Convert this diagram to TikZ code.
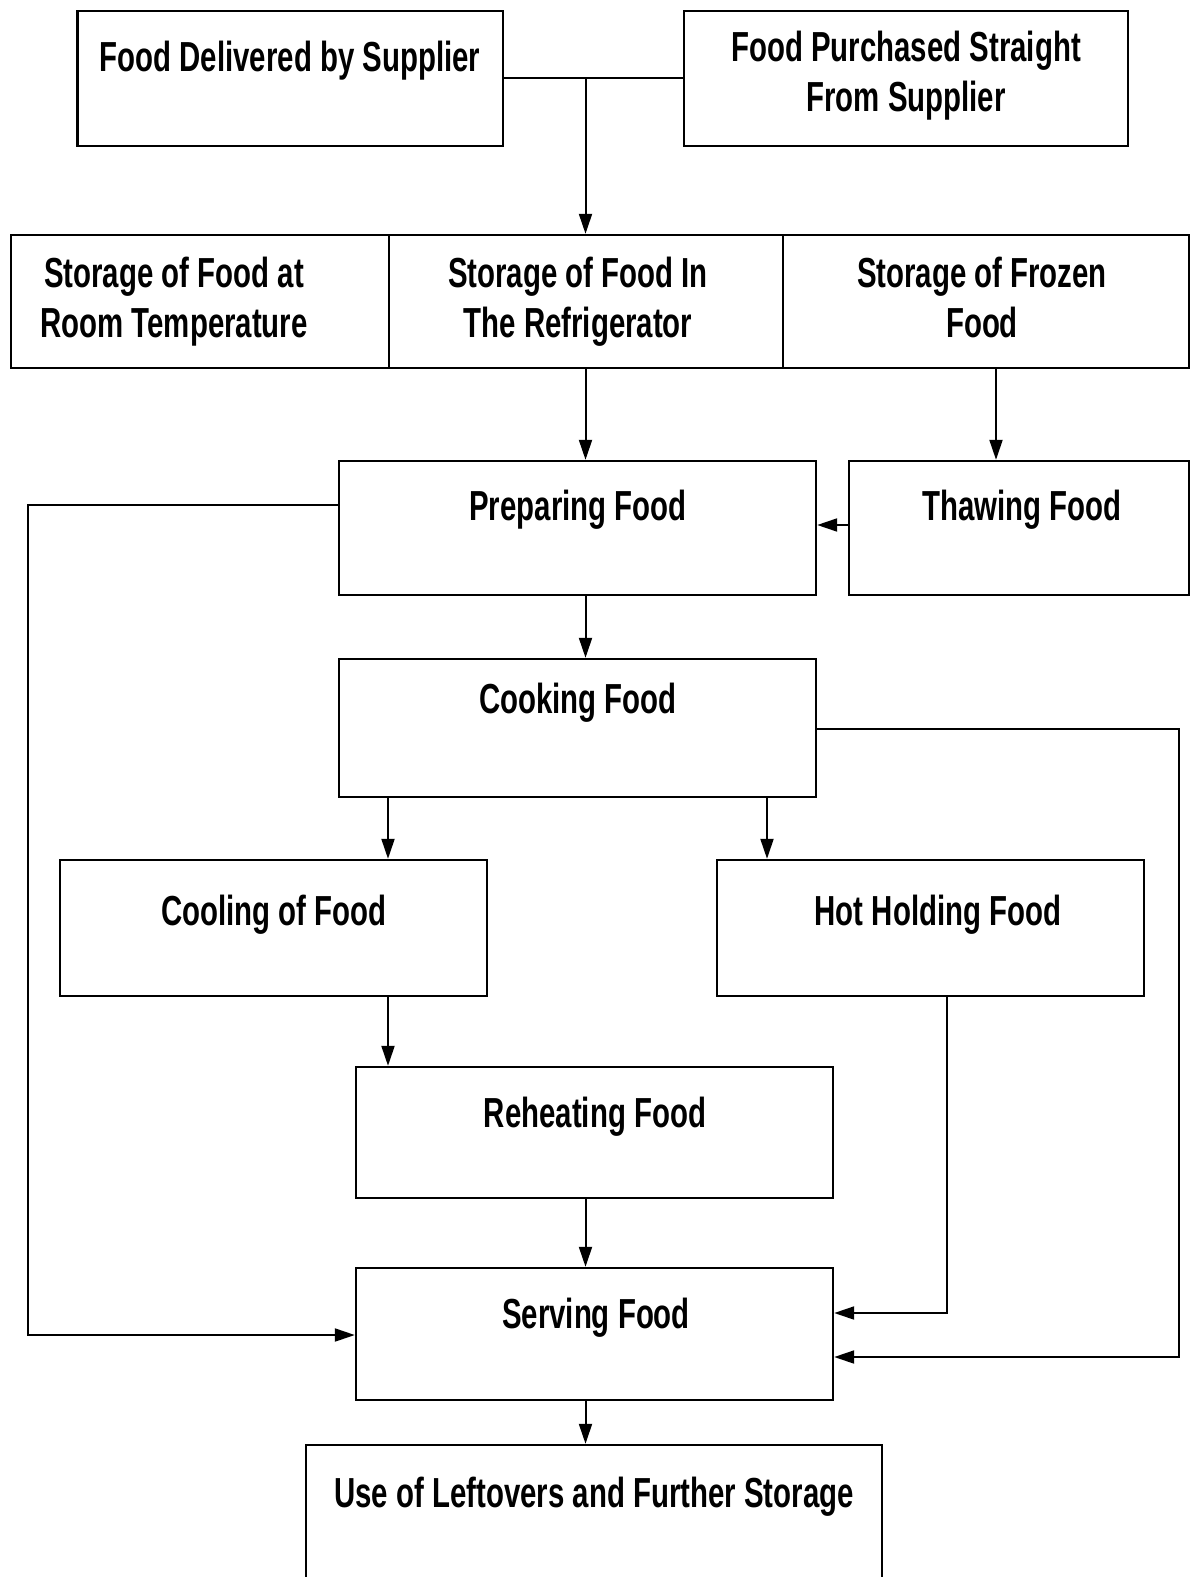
\documentclass[tikz,border=0pt]{standalone}
\usepackage{fontspec}
\setmainfont[FakeStretch=0.70]{Liberation Sans}
\usetikzlibrary{arrows.meta}
\begin{document}
\begin{tikzpicture}[x=0.5pt,y=-0.5pt,
  box/.style={draw, line width=1.2pt, inner sep=0pt, rectangle},
  lbl/.style={font=\bfseries\fontsize{21}{25}\selectfont, inner sep=0pt, align=center},
  conn/.style={line width=1pt},
  arr/.style={line width=1pt, -{Triangle[length=10pt,width=6.5pt]}}]
\useasboundingbox (0,0) rectangle (1192,1577);
\fill[white] (0,0) rectangle (1192,1577);

% boxes
\node[box, minimum width=212.75pt, minimum height=67.5pt] (b1) at (290.25,78.5) {};
\node[box, minimum width=222pt, minimum height=67.5pt] (b2) at (906,78.5) {};
\node[box, minimum width=189pt, minimum height=66.5pt] (s1) at (200,301.5) {};
\node[box, minimum width=197pt, minimum height=66.5pt] (s2) at (586,301.5) {};
\node[box, minimum width=203pt, minimum height=66.5pt] (s3) at (986,301.5) {};
\node[box, minimum width=238.5pt, minimum height=67pt] (prep) at (577.5,528) {};
\node[box, minimum width=170pt, minimum height=67pt] (thaw) at (1019,528) {};
\node[box, minimum width=238.5pt, minimum height=69pt] (cook) at (577.5,728) {};
\node[box, minimum width=213.5pt, minimum height=68pt] (cool) at (273.5,928) {};
\node[box, minimum width=213.5pt, minimum height=68pt] (hot) at (930.5,928) {};
\node[box, minimum width=238.5pt, minimum height=65.5pt] (reheat) at (594.5,1132.5) {};
\node[box, minimum width=238.5pt, minimum height=66pt] (serve) at (594.5,1334) {};
\node[box, minimum width=288pt, minimum height=77.5pt] (left) at (594,1522.5) {};

% labels
\node[lbl, anchor=base] (b1t) at (290,72) {Food Delivered by Supplier};
\node[lbl, anchor=north] (b2t) at (906,31) {Food Purchased Straight\\From Supplier};
\node[lbl, anchor=north] (s1t) at (174,257) {Storage of Food at\\Room Temperature};
\node[lbl, anchor=north] (s2t) at (578,257) {Storage of Food In\\The Refrigerator};
\node[lbl, anchor=north] (s3t) at (982,257) {Storage of Frozen\\Food};
\node[lbl, anchor=base] (prept) at (578,520) {Preparing Food};
\node[lbl, anchor=base] (thawt) at (1022,520) {Thawing Food};
\node[lbl, anchor=base] (cookt) at (578,713) {Cooking Food};
\node[lbl, anchor=base] (coolt) at (274,925) {Cooling of Food};
\node[lbl, anchor=base] (hott) at (938,925) {Hot Holding Food};
\node[lbl, anchor=base] (reheatt) at (595,1127) {Reheating Food};
\node[lbl, anchor=base] (servet) at (596,1328) {Serving Food};
\node[lbl, anchor=base] (leftt) at (594,1507) {Use of Leftovers and Further Storage};

% helper coordinates
\coordinate (cA) at (585.5,78.5);
\coordinate (cB) at (996,0);
\coordinate (cC) at (388,0);
\coordinate (cD) at (767,0);
\coordinate (rT) at (0,525);
\coordinate (h1) at (947,1313);
\coordinate (k1) at (1179,729);
\coordinate (k2) at (1179,1357);
\coordinate (p1) at (28,505);
\coordinate (p2) at (28,1335);

% connectors
\draw[conn] (b1.east) -- (b2.west);
\draw[arr] (cA) -- (cA |- s2.north);
\draw[arr] (cA |- s2.south) -- (cA |- prep.north);
\draw[arr] (cB |- s3.south) -- (cB |- thaw.north);
\draw[arr] (thaw.west |- rT) -- (prep.east |- rT);
\draw[arr] (cA |- prep.south) -- (cA |- cook.north);
\draw[arr] (cC |- cook.south) -- (cC |- cool.north);
\draw[arr] (cD |- cook.south) -- (cD |- hot.north);
\draw[arr] (cC |- cool.south) -- (cC |- reheat.north);
\draw[arr] (cA |- reheat.south) -- (cA |- serve.north);
\draw[arr] (h1 |- hot.south) -- (h1) -- (serve.east |- h1);
\draw[arr] (cook.east |- k1) -- (k1) -- (k2) -- (serve.east |- k2);
\draw[arr] (prep.west |- p1) -- (p1) -- (p2) -- (serve.west |- p2);
\draw[arr] (cA |- serve.south) -- (cA |- left.north);
\end{tikzpicture}
\end{document}
